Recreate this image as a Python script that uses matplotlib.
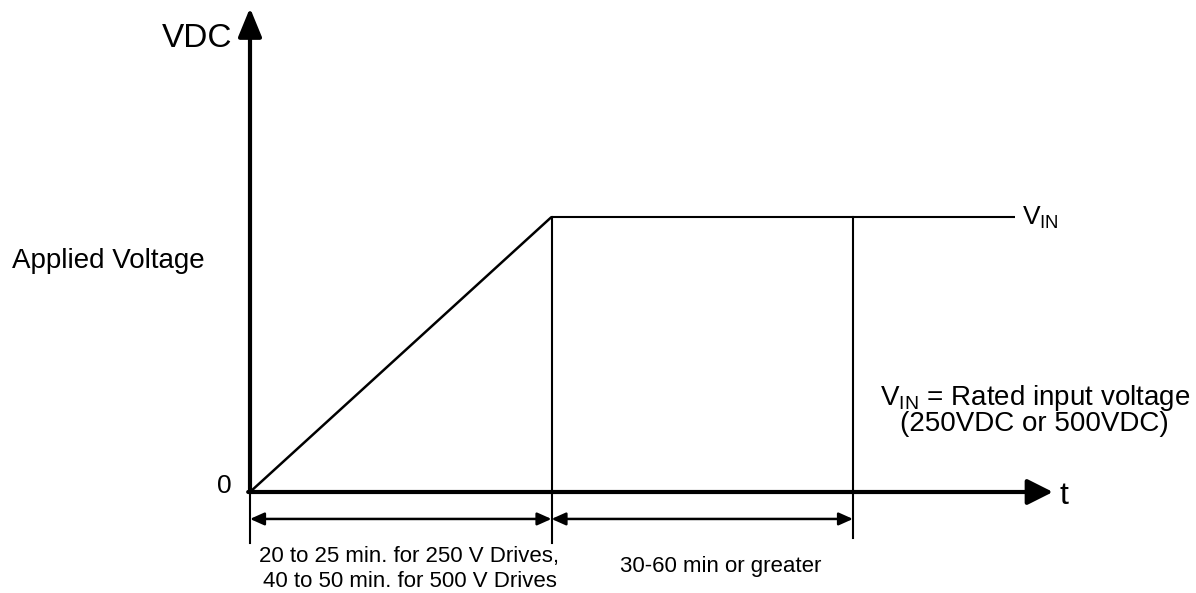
import matplotlib
matplotlib.use("Agg")
import matplotlib.pyplot as plt

plt.rcParams['font.family'] = ['Liberation Sans', 'DejaVu Sans']
plt.rcParams['mathtext.fontset'] = 'custom'
plt.rcParams['mathtext.rm'] = 'Liberation Sans'
plt.rcParams['mathtext.it'] = 'Liberation Sans'

# ---- data (time in "ramp units", voltage relative to V_IN) ----
ramp_t = [0.0, 1.0]
ramp_v = [0.0, 1.0]
plateau_t = [1.0, 2.537]
plateau_v = [1.0, 1.0]
marker_t = [1.0, 2.0]          # vertical reference lines at end of ramp / hold
marker_bottom = [-0.185, -0.167]
dim_spans = [(0.0, 1.0), (1.0, 2.0)]
dim_v = -0.098
x_axis_end = 2.663
y_axis_end = 1.76

labels_dim = ["20 to 25 min. for 250 V Drives,\n40 to 50 min. for 500 V Drives",
              "30-60 min or greater"]

W, H = 1196, 593
fig = plt.figure(figsize=(W / 100, H / 100), dpi=100)
ax = fig.add_axes([0, 0, 1, 1])
# pixel mapping: t=0 -> x=250, t=1 -> x=551.5 ; v=0 -> y=492 (from top), v=1 -> y=217
sx, x0 = 301.5, 250.0
sy, y0 = 275.0, 492.0
ax.set_xlim(-x0 / sx, (W - x0) / sx)
ax.set_ylim(-(H - y0) / sy, y0 / sy)
ax.axis('off')

def P(px, py):
    """pixel (from top-left) to figure fraction for text placement"""
    return (px / W, 1 - py / H)

# ramp and plateau
ax.plot(ramp_t, ramp_v, color='black', lw=1.8, solid_capstyle='butt')
ax.plot(plateau_t, plateau_v, color='black', lw=1.5, solid_capstyle='butt')

# vertical reference lines
for t, b in zip(marker_t, marker_bottom):
    ax.plot([t, t], [1.0, b], color='black', lw=1.5)
ax.plot([0, 0], [0, marker_bottom[0]], color='black', lw=1.5)

# axes with arrows
ax.annotate('', xy=(0, y_axis_end), xytext=(0, 0),
            arrowprops=dict(arrowstyle='-|>,head_length=1.75,head_width=0.72',
                            lw=3.0, color='black', shrinkA=0, shrinkB=0,
                            mutation_scale=10))
ax.annotate('', xy=(x_axis_end, 0), xytext=(-0.006, 0),
            arrowprops=dict(arrowstyle='-|>,head_length=1.55,head_width=0.78',
                            lw=3.0, color='black', shrinkA=0, shrinkB=0,
                            mutation_scale=10))

# dimension arrows
for a, b in dim_spans:
    ax.annotate('', xy=(b, dim_v), xytext=(a, dim_v),
                arrowprops=dict(arrowstyle='<|-|>,head_length=0.85,head_width=0.38',
                                lw=1.8, color='black', shrinkA=0, shrinkB=0,
                                mutation_scale=10))

# texts
fig.text(*P(232, 47), 'VDC', fontsize=24, ha='right', va='baseline')
fig.text(*P(12, 268), 'Applied Voltage', fontsize=20, ha='left', va='baseline')
fig.text(*P(232, 493), '0', fontsize=19, ha='right', va='baseline')
fig.text(*P(1060, 504), 't', fontsize=23, ha='left', va='baseline')
fig.text(*P(1022, 225), r'V$_{\mathrm{IN}}$', fontsize=19, ha='left', va='baseline')
fig.text(*P(1035, 405), r'V$_{\mathrm{IN}}$ = Rated input voltage', fontsize=20,
         ha='center', va='baseline')
fig.text(*P(1034, 431), '(250VDC or 500VDC)', fontsize=20, ha='center', va='baseline')
fig.text(*P(409, 562), labels_dim[0].split('\n')[0], fontsize=16, ha='center', va='baseline')
fig.text(*P(410, 587), labels_dim[0].split('\n')[1], fontsize=16, ha='center', va='baseline')
fig.text(*P(721, 572), labels_dim[1], fontsize=16, ha='center', va='baseline')

fig.savefig('out.png', dpi=100)
